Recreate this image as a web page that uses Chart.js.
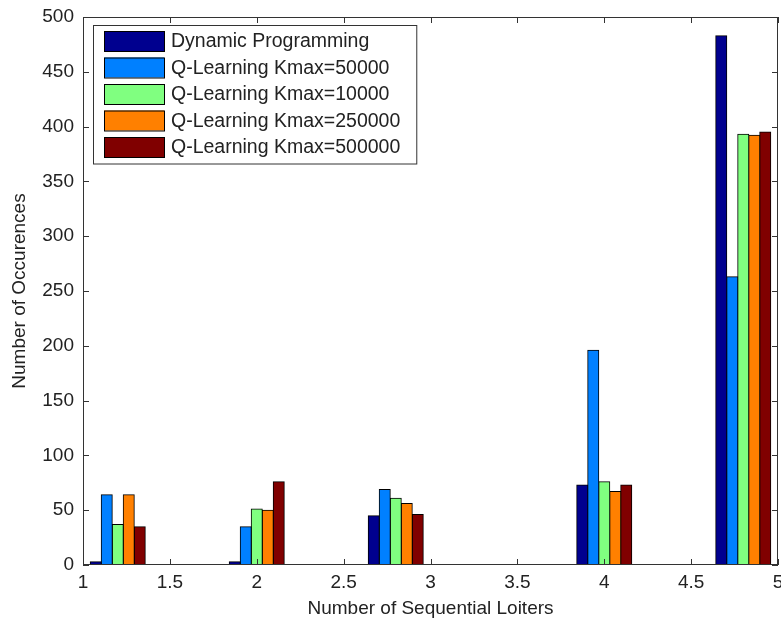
<!DOCTYPE html>
<html>
<head>
<meta charset="utf-8">
<script src="https://cdn.jsdelivr.net/npm/chart.js@4/dist/chart.umd.min.js"></script>
<style>
  body { margin: 0; background: #fff; }
  canvas { display: block; }
</style>
</head>
<body>
<canvas id="loitersChart" width="781" height="624"></canvas>
<script>
// bin centres (number of sequential loiters)
const categories = [1.2, 2.0, 2.8, 4.0, 4.8];

// occurrences per bin
const dpValues = [3, 3, 45, 73, 483];
const q50000Values = [64, 35, 69, 196, 263];
const q10000Values = [37, 51, 61, 76, 393];
const q250000Values = [64, 50, 56, 67, 392];
const q500000Values = [35, 76, 46, 73, 395];

const seriesLabels = [
    'Dynamic Programming',
    'Q-Learning Kmax=50000',
    'Q-Learning Kmax=10000',
    'Q-Learning Kmax=250000',
    'Q-Learning Kmax=500000'
];
const seriesValues = [dpValues, q50000Values, q10000Values, q250000Values, q500000Values];
const seriesColors = ['#00008F', '#0080FF', '#80FF80', '#FF8000', '#800000'];

const FONT = '"Liberation Sans", Arial, sans-serif';
const axisColor = '#333';

// matlab style box with inward ticks on all four sides
const boxPlugin = {
    id: 'matlabBox',
    afterDatasetsDraw(chart) {
        const {ctx, chartArea: a, scales} = chart;
        const tl = 6;
        ctx.save();
        ctx.strokeStyle = axisColor;
        ctx.lineWidth = 1;
        ctx.strokeRect(a.left + 0.5, a.top + 0.5, a.right - a.left - 1, a.bottom - a.top - 1);
        ctx.beginPath();
        scales.x.ticks.forEach(t => {
            const px = Math.round(scales.x.getPixelForValue(t.value)) + 0.5;
            ctx.moveTo(px, a.bottom); ctx.lineTo(px, a.bottom - tl);
            ctx.moveTo(px, a.top); ctx.lineTo(px, a.top + tl);
        });
        scales.y.ticks.forEach(t => {
            const py = Math.round(scales.y.getPixelForValue(t.value)) + 0.5;
            ctx.moveTo(a.left, py); ctx.lineTo(a.left + tl, py);
            ctx.moveTo(a.right, py); ctx.lineTo(a.right - tl, py);
        });
        ctx.stroke();
        ctx.restore();
    }
};

// legend box in the upper left corner of the axes
const legendPlugin = {
    id: 'boxLegend',
    afterDraw(chart) {
        const {ctx, chartArea: a} = chart;
        const x0 = a.left + 10, y0 = a.top + 8;
        const rowH = 26.5, swW = 60, swH = 20;
        ctx.save();
        ctx.font = '19.5px ' + FONT;
        let maxW = 0;
        chart.data.datasets.forEach(ds => { maxW = Math.max(maxW, ctx.measureText(ds.label).width); });
        const boxW = 78 + maxW + 16;
        const boxH = rowH * chart.data.datasets.length + 6;
        ctx.fillStyle = '#fff';
        ctx.fillRect(x0, y0, boxW, boxH);
        ctx.strokeStyle = axisColor;
        ctx.lineWidth = 1;
        ctx.strokeRect(x0 + 0.5, y0 + 0.5, boxW, boxH);
        chart.data.datasets.forEach((ds, i) => {
            const cy = y0 + 16 + i * rowH;
            ctx.fillStyle = ds.backgroundColor;
            ctx.fillRect(x0 + 11, cy - swH / 2, swW, swH);
            ctx.strokeStyle = '#000';
            ctx.strokeRect(x0 + 11.5, cy - swH / 2 + 0.5, swW, swH);
            ctx.fillStyle = '#222';
            ctx.textBaseline = 'middle';
            ctx.fillText(ds.label, x0 + 78, cy + 1);
        });
        ctx.restore();
    }
};

const ctx = document.getElementById('loitersChart').getContext('2d');
new Chart(ctx, {
    type: 'bar',
    data: {
        datasets: seriesLabels.map((label, i) => ({
            label: label,
            data: categories.map((x, j) => ({x: x, y: seriesValues[i][j]})),
            backgroundColor: seriesColors[i],
            borderColor: '#000',
            borderWidth: 1,
            borderSkipped: false,
            inflateAmount: 0.5,
            barThickness: 11
        }))
    },
    options: {
        responsive: false,
        animation: false,
        devicePixelRatio: 1,
        layout: { padding: { top: 17, right: 3, left: 0, bottom: 0 } },
        plugins: {
            legend: { display: false },
            tooltip: { enabled: false }
        },
        scales: {
            x: {
                type: 'linear',
                min: 1,
                max: 5,
                offset: false,
                grid: { display: false, drawTicks: false },
                border: { display: false },
                ticks: { stepSize: 0.5, padding: 6, color: '#222', font: { family: FONT, size: 19 },
                         callback: (v) => String(v) },
                title: { display: true, text: 'Number of Sequential Loiters', color: '#222',
                         font: { family: FONT, size: 19 }, padding: { top: 0, bottom: 4 } },
                afterFit(scale) { scale.height = 59; scale.paddingLeft = 0; scale.paddingRight = 0; }
            },
            y: {
                min: 0,
                max: 500,
                grid: { display: false, drawTicks: false },
                border: { display: false },
                ticks: { stepSize: 50, padding: 9, color: '#222', font: { family: FONT, size: 19 } },
                title: { display: true, text: 'Number of Occurences', color: '#222',
                         font: { family: FONT, size: 19 }, padding: { top: 8, bottom: 0 } },
                afterFit(scale) { scale.width = 83; scale.paddingTop = 0; scale.paddingBottom = 0; }
            }
        }
    },
    plugins: [boxPlugin, legendPlugin]
});
</script>
</body>
</html>
